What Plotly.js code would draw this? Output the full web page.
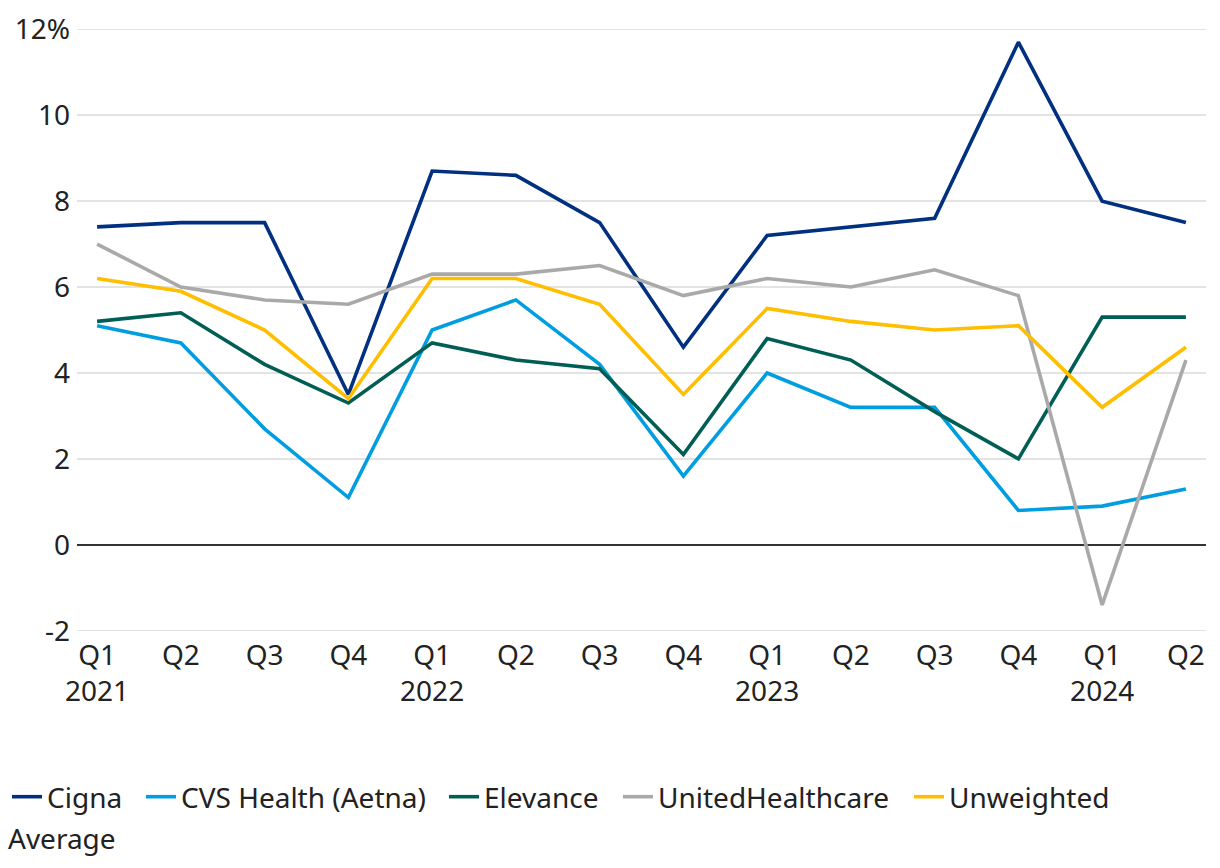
<!DOCTYPE html>
<html>
<head>
<meta charset="utf-8">
<script src="https://cdn.plot.ly/plotly-3.0.1.min.js"></script>
<style>html,body{margin:0;padding:0;background:#fff;}#chart{width:1220px;height:868px;}</style>
</head>
<body>
<div id="chart"></div>
<script>
var quarters = ["Q1<br>2021","Q2","Q3","Q4","Q1<br>2022","Q2","Q3","Q4","Q1<br>2023","Q2","Q3","Q4","Q1<br>2024","Q2"];
var cigna = [7.4, 7.5, 7.5, 3.5, 8.7, 8.6, 7.5, 4.6, 7.2, 7.4, 7.6, 11.7, 8.0, 7.5];
var cvs = [5.1, 4.7, 2.7, 1.1, 5.0, 5.7, 4.2, 1.6, 4.0, 3.2, 3.2, 0.8, 0.9, 1.3];
var elevance = [5.2, 5.4, 4.2, 3.3, 4.7, 4.3, 4.1, 2.1, 4.8, 4.3, 3.1, 2.0, 5.3, 5.3];
var uhc = [7.0, 6.0, 5.7, 5.6, 6.3, 6.3, 6.5, 5.8, 6.2, 6.0, 6.4, 5.8, -1.4, 4.3];
var unweighted = [6.2, 5.9, 5.0, 3.4, 6.2, 6.2, 5.6, 3.5, 5.5, 5.2, 5.0, 5.1, 3.2, 4.6];
var seriesNames = ["Cigna", "CVS Health (Aetna)", "Elevance", "UnitedHealthcare", "Unweighted"];
var legendWrapText = "Average";
var yTickVals = [-2, 0, 2, 4, 6, 8, 10, 12];
var yTickText = ["-2", "0", "2", "4", "6", "8", "10", "12%"];

var xIdx = quarters.map(function(_, i){ return i; });
var colors = ["#00307f", "#009ee0", "#005e55", "#a9a9a9", "#ffbe00"];
var seriesValues = [cigna, cvs, elevance, uhc, unweighted];
var legendIds = ["legend", "legend2", "legend3", "legend4", "legend5"];
var legendX = [7, 141, 444, 618, 909];

var data = seriesValues.map(function(y, i){
  return {type:'scatter', mode:'lines', name:seriesNames[i], x:xIdx, y:y,
          line:{color:colors[i], width:3.6}, hoverinfo:'skip', legend:legendIds[i]};
});
var font = {family:"Noto Sans, sans-serif", size:28, color:"#222222"};
var layout = {
  width:1220, height:868,
  paper_bgcolor:"#ffffff", plot_bgcolor:"#ffffff",
  font:font,
  margin:{l:77, r:14, t:28, b:236},
  showlegend:true,
  xaxis:{
    range:[-0.24, 13.24], tickmode:'array', tickvals:xIdx, ticktext:quarters,
    showgrid:false, zeroline:false, showline:false, ticks:'', tickfont:font, ticklabelstandoff:4, fixedrange:true
  },
  yaxis:{
    range:[-2.03, 12.03], tickmode:'array', tickvals:yTickVals, ticktext:yTickText,
    showgrid:true, gridcolor:"#e3e3e3", gridwidth:1.5,
    zeroline:true, zerolinecolor:"#333333", zerolinewidth:2,
    showline:false, ticks:'', tickfont:font, ticklabelstandoff:6, fixedrange:true
  },
  annotations:[{text:legendWrapText, xref:'paper', yref:'paper', x:-77/1129, y:0, xanchor:'left', yanchor:'middle',
                showarrow:false, font:font, yshift:-206, xshift:6}]
};
legendIds.forEach(function(id, i){
  layout[id] = {orientation:'h', xref:'container', yref:'container', x:legendX[i]/1220, y:1-797/868,
                xanchor:'left', yanchor:'middle', font:font, itemwidth:30, bgcolor:'rgba(0,0,0,0)'};
});
Plotly.newPlot('chart', data, layout, {displayModeBar:false, staticPlot:true});
</script>
</body>
</html>
